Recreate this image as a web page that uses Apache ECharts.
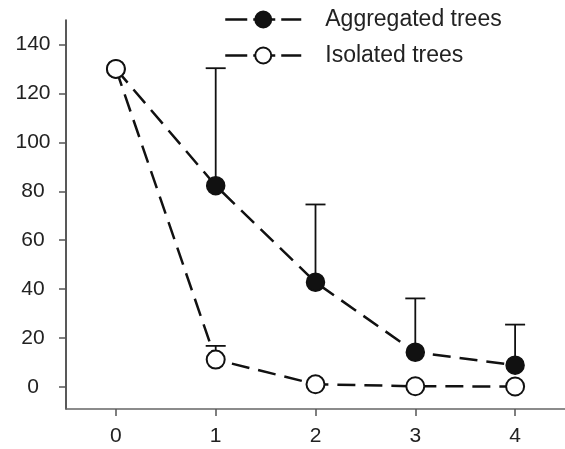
<!DOCTYPE html>
<html>
<head>
<meta charset="utf-8">
<script src="https://cdn.jsdelivr.net/npm/echarts@6/dist/echarts.min.js"></script>
<style>
  html, body { margin: 0; padding: 0; background: #fff; }
  #chart { width: 565px; height: 449px; }
</style>
</head>
<body>
<div id="chart"></div>
<script>
const xValues = [0, 1, 2, 3, 4];
const aggregated = [130, 82.3, 42.8, 14.2, 8.9];
const aggregatedUpper = [null, 130.3, 74.6, 36.2, 25.5];
const isolated = [130, 11.2, 1.1, 0.3, 0.2];
const isolatedUpper = [null, 16.8, null, null, null];
const yTicks = [0, 20, 40, 60, 80, 100, 120, 140];
const seriesNames = ['Aggregated trees', 'Isolated trees'];

const chart = echarts.init(document.getElementById('chart'), null, { renderer: 'canvas' });

function pairs(ys) {
  return xValues.map((x, i) => [x, ys[i]]);
}

function errData(means, uppers) {
  const out = [];
  xValues.forEach((x, i) => {
    if (uppers[i] != null) out.push([x, means[i], uppers[i]]);
  });
  return out;
}

function renderErr(params, api) {
  const x = api.value(0);
  const p0 = api.coord([x, api.value(1)]);
  const p1 = api.coord([x, api.value(2)]);
  const half = 10;
  const style = { stroke: '#111', lineWidth: 1.8 };
  return {
    type: 'group',
    children: [
      { type: 'line', shape: { x1: p0[0], y1: p0[1], x2: p1[0], y2: p1[1] }, style: style },
      { type: 'line', shape: { x1: p1[0] - half, y1: p1[1], x2: p1[0] + half, y2: p1[1] }, style: style }
    ]
  };
}

const font = 'Liberation Sans, Arial, Helvetica, sans-serif';
const dash = [18, 9];

var option = {
  backgroundColor: '#ffffff',
  animation: false,
  grid: { left: 66, right: 0, top: 20, bottom: 40 },
  legend: {
    orient: 'vertical',
    left: 219,
    top: 3,
    itemWidth: 76,
    itemHeight: 20,
    itemGap: 13,
    lineStyle: { type: [22, 6], width: 2.5 },
    textStyle: { fontFamily: font, fontSize: 23, color: '#222', padding: [0, 0, 0, 19] },
    data: seriesNames
  },
  xAxis: {
    type: 'value',
    min: -0.5,
    max: 4.5,
    axisLine: { show: true, onZero: false, lineStyle: { color: '#666', width: 1.5 } },
    axisTick: { show: true, length: 7, customValues: xValues, lineStyle: { color: '#555', width: 1.5 } },
    axisLabel: { customValues: xValues, fontFamily: font, fontSize: 21, color: '#222', margin: 17 },
    splitLine: { show: false }
  },
  yAxis: {
    type: 'value',
    min: -9,
    max: 150,
    axisLine: { show: true, onZero: false, lineStyle: { color: '#222', width: 1.5 } },
    axisTick: { show: true, length: 7, customValues: yTicks, lineStyle: { color: '#555', width: 1.5 } },
    axisLabel: { customValues: yTicks, fontFamily: font, fontSize: 21, color: '#222', margin: 33, align: 'center' },
    splitLine: { show: false }
  },
  series: [
    {
      type: 'custom',
      renderItem: renderErr,
      data: errData(aggregated, aggregatedUpper),
      z: 1,
      silent: true
    },
    {
      type: 'custom',
      renderItem: renderErr,
      data: errData(isolated, isolatedUpper),
      z: 1,
      silent: true
    },
    {
      name: seriesNames[0],
      type: 'line',
      data: pairs(aggregated),
      symbol: 'circle',
      symbolSize: 18,
      showAllSymbol: true,
      lineStyle: { color: '#111', width: 2.5, type: dash },
      itemStyle: { color: '#111', borderColor: '#111', borderWidth: 1.5 },
      z: 3
    },
    {
      name: seriesNames[1],
      type: 'line',
      data: pairs(isolated),
      symbol: 'circle',
      symbolSize: 18,
      showAllSymbol: true,
      lineStyle: { color: '#111', width: 2.5, type: dash },
      itemStyle: { color: '#ffffff', borderColor: '#111', borderWidth: 2 },
      z: 4
    }
  ]
};

chart.setOption(option);
</script>
</body>
</html>
